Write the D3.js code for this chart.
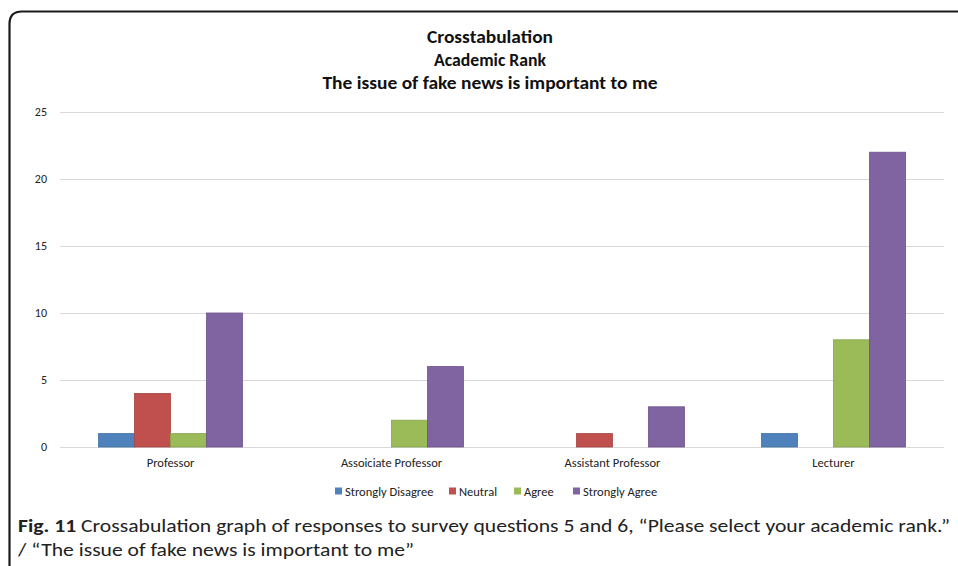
<!DOCTYPE html>
<html>
<head>
<meta charset="utf-8">
<script src="https://cdn.jsdelivr.net/npm/d3@7"></script>
<style>
  html, body { margin: 0; padding: 0; background: #fff; }
  svg { display: block; }
  text { font-family: Carlito, "Liberation Sans Narrow", "Liberation Sans", Arial, sans-serif; }
</style>
</head>
<body>
<svg id="chart" width="958" height="566"></svg>
<script>
// Academic rank crosstabulation: "The issue of fake news is important to me"
const categories = ["Professor", "Assoiciate Professor", "Assistant Professor", "Lecturer"];
const seriesNames = ["Strongly Disagree", "Neutral", "Agree", "Strongly Agree"];
const stronglyDisagree = [1, 0, 0, 1];
const neutral          = [4, 0, 1, 0];
const agree            = [1, 2, 0, 8];
const stronglyAgree    = [10, 6, 3, 22];
const yTicks = [0, 5, 10, 15, 20, 25];
const titleLines = ["Crosstabulation", "Academic Rank", "The issue of fake news is important to me"];

const seriesValues = [stronglyDisagree, neutral, agree, stronglyAgree];
const colors = ["#4f81bd", "#c0504d", "#9bbb59", "#8064a2"];
const strokes = ["#41709f", "#a54442", "#86a34c", "#6b538a"];
const FONT = 'Carlito, "Liberation Sans Narrow", "Liberation Sans", Arial, sans-serif';

const svg = d3.select("#chart");

// frame with rounded top-left corner
svg.append("path")
  .attr("d", "M9.5,566 L9.5,24 Q9.5,11.5 22,11.5 L958,11.5")
  .attr("fill", "none").attr("stroke", "#1a1a1a").attr("stroke-width", 2.2);

// titles
const titleY = [43, 66, 89];
const titleW = [126, 112, 335];
titleLines.forEach((t, i) => {
  svg.append("text")
    .attr("x", 490).attr("y", titleY[i])
    .attr("text-anchor", "middle")
    .attr("font-size", 17).attr("font-weight", "bold").attr("fill", "#111")
    .attr("textLength", titleW[i]).attr("lengthAdjust", "spacingAndGlyphs")
    .text(t);
});

const plot = { left: 60, right: 944, top: 112, bottom: 447 };

const x0 = d3.scaleBand().domain(categories).range([plot.left, plot.right]).paddingInner(0).paddingOuter(0);
const x1 = d3.scaleBand().domain(seriesNames).range([0, x0.bandwidth()]).paddingOuter(1.07).paddingInner(0);
const y = d3.scaleLinear().domain([0, 25]).range([plot.bottom, plot.top]);

// gridlines
svg.append("g")
  .selectAll("line").data(yTicks).join("line")
  .attr("x1", plot.left).attr("x2", plot.right)
  .attr("y1", d => Math.round(y(d)) + 0.5).attr("y2", d => Math.round(y(d)) + 0.5)
  .attr("stroke", "#d9d9d9").attr("stroke-width", 1.2);

// y axis labels
const yAxis = d3.axisLeft(y).tickValues(yTicks).tickSize(0).tickPadding(0);
const gy = svg.append("g").attr("transform", `translate(${plot.left - 13},0)`).call(yAxis);
gy.select(".domain").remove();
gy.selectAll("text").attr("font-size", 12).attr("fill", "#222").style("font-family", FONT);

// bars
const groups = svg.append("g").selectAll("g").data(categories).join("g")
  .attr("transform", d => `translate(${x0(d)},0)`);
groups.selectAll("rect")
  .data((c, ci) => seriesNames.map((s, si) => ({ s, si, v: seriesValues[si][ci] })))
  .join("rect")
  .filter(d => d.v > 0)
  .attr("x", d => x1(d.s))
  .attr("width", x1.bandwidth())
  .attr("y", d => y(d.v))
  .attr("height", d => y(0) - y(d.v))
  .attr("fill", d => colors[d.si])
  .attr("stroke", d => strokes[d.si]).attr("stroke-width", 0.8);

// category axis labels
const xAxis = d3.axisBottom(x0).tickSize(0).tickPadding(0);
const gx = svg.append("g").attr("transform", `translate(0,${plot.bottom + 10})`).call(xAxis);
gx.select(".domain").remove();
gx.selectAll("text").attr("font-size", 12.5).attr("fill", "#222").attr("dy", "0.8em").style("font-family", FONT);

// legend
const legendX = [335, 449, 514, 573];
const legend = svg.append("g").selectAll("g").data(seriesNames).join("g")
  .attr("transform", (d, i) => `translate(${legendX[i]},491)`);
legend.append("rect").attr("x", 0).attr("y", -3.5).attr("width", 7).attr("height", 7)
  .attr("fill", (d, i) => colors[i]);
legend.append("text").attr("x", 10).attr("y", 4.5).attr("font-size", 12.5).attr("fill", "#222").text(d => d);

// figure caption
const cap1 = svg.append("text").attr("x", 18).attr("y", 532).attr("font-size", 18.5).attr("fill", "#222")
  .attr("textLength", 932).attr("lengthAdjust", "spacingAndGlyphs");
cap1.append("tspan").attr("font-weight", "bold").text("Fig. 11");
cap1.append("tspan").text(" Crossabulation graph of responses to survey questions 5 and 6, \u201cPlease select your academic rank.\u201d");
svg.append("text").attr("x", 18).attr("y", 556).attr("font-size", 18.5).attr("fill", "#222")
  .attr("textLength", 396).attr("lengthAdjust", "spacingAndGlyphs")
  .text("/ \u201cThe issue of fake news is important to me\u201d");
</script>
</body>
</html>
